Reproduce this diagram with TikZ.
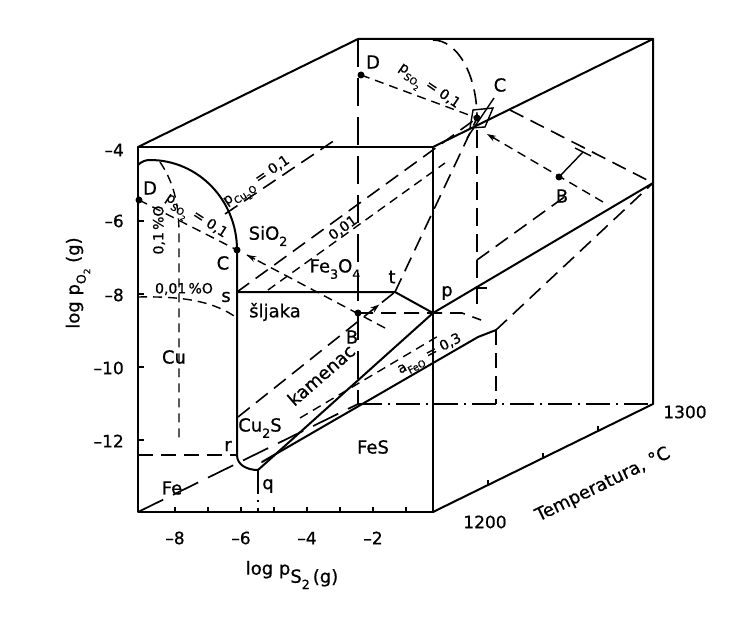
\documentclass[tikz,border=0pt]{standalone}
\usepackage{fontspec}
\setmainfont{DejaVu Sans}[FakeBold=0.7]
\usetikzlibrary{arrows.meta,calc}
\newcommand{\lw}[1]{\raisebox{-0.35em}{\scalebox{0.7}{#1}}}
\begin{document}
\begin{tikzpicture}[x=1pt,y=-1pt,
  edge/.style={line width=2pt, line join=round, line cap=round},
  bnd/.style={line width=2pt, line join=round, line cap=round},
  hid/.style={line width=1.7pt, dash pattern=on 28pt off 11pt},
  dsh/.style={line width=1.6pt, dash pattern=on 15pt off 8pt},
  sdsh/.style={line width=1.4pt, dash pattern=on 9pt off 6pt},
  ddot/.style={line width=1.6pt, dash pattern=on 24pt off 6pt on 2pt off 6pt},
  hvy/.style={line width=2.2pt, dash pattern=on 18pt off 8pt},
  lab/.style={font=\fontsize{18}{20}\selectfont, inner sep=0pt},
  num/.style={font=\fontsize{17}{19}\selectfont, inner sep=0pt},
  sml/.style={font=\fontsize{14}{16}\selectfont, inner sep=0pt},
  ptdot/.style={circle, fill, inner sep=0pt, minimum size=7pt},
  axtick/.style={line width=1.2pt},
  arrowtip/.style={line width=1.4pt, -{Stealth[length=9pt,width=6pt]}}
]
\useasboundingbox (0,0) rectangle (743,620);
\fill[white] (0,0) rectangle (743,620);

% ---- box corners
\coordinate (FTL) at (138,147);
\coordinate (FTR) at (433,147);
\coordinate (FBR) at (433,512);
\coordinate (FBL) at (138,512);
\coordinate (BTL) at (358,39);
\coordinate (BTR) at (653,39);
\coordinate (BBR) at (653,404);
\coordinate (BBL) at (358,404);

% ---- front face points
\coordinate (D) at (139,200);
\coordinate (C) at (237,250);
\coordinate (B) at (358,313);
\coordinate (s) at (237,292);
\coordinate (t) at (395,292);
\coordinate (p) at (433,313);
\coordinate (q) at (258,470);
\coordinate (r) at (237,455);
\coordinate (rl) at (138,455);
\coordinate (qb) at (258,512);
\coordinate (arcL) at (138,165);
\coordinate (arcTop) at (150,160);
\coordinate (a1) at (225,214);
\coordinate (a2) at (335,140);
\coordinate (c1) at (268,290);
\coordinate (c2) at (445,163);
\coordinate (Barrow) at (247,255);
\coordinate (Bext) at (385,328);
\coordinate (e1) at (238,417);
\coordinate (earr) at ($(e1)!0.9!(t)$);
\coordinate (af1) at (262,462);
\coordinate (af2) at (478,337);
\coordinate (af3) at (496,330);
\coordinate (af4) at (496,404);
\coordinate (ac1) at (300,418);
\coordinate (ac2) at (440,335);
\coordinate (pe1) at (462,313);
\coordinate (pe2) at (481,320);
\coordinate (o1) at (160,162);
\coordinate (o2) at (179,235);
\coordinate (o3) at (179,440);
\coordinate (oo1) at (138,297);
\coordinate (oo2) at (237,318);

% ---- back / right face points
\coordinate (pp) at (653,183);
\coordinate (Dp) at (361,75);
\coordinate (Cp) at (477,118);
\coordinate (Bp) at (559,177);
\coordinate (Bpe) at (603,202);
\coordinate (Cparrow) at (487,134);
\coordinate (ba1) at (433,40);
\coordinate (dl1) at (510,110);
\coordinate (br) at (583,152);
\coordinate (brA) at (575,148);
\coordinate (brB) at (591,156);
\coordinate (v1) at (477,130);
\coordinate (v2) at (477,305);
\coordinate (vt) at (487,288);
\coordinate (vt0) at (477,288);
\coordinate (w1) at (477,260);
\coordinate (w2) at (570,193);
\coordinate (sq1) at (473,110);
\coordinate (sq2) at (493,108);
\coordinate (sq3) at (485,127);
\coordinate (sq4) at (470,128);
\coordinate (ld1) at (467,138);
\coordinate (ld2) at (494,98);

% ---- box
\draw[edge] (FTL) -- (FTR) -- (FBR) -- (FBL) -- cycle;
\draw[edge] (FTL) -- (BTL) -- (BTR) -- (FTR);
\draw[edge] (BTR) -- (BBR) -- (FBR);
\draw[hid] (BTL) -- (BBL);
\draw[hid] (FBL) -- (BBL);
\draw[ddot] (BBL) -- (BBR);

% ---- ticks
\foreach \y in {221,294,367,440} \draw[axtick] (138,\y) -- ++(6,0);
\foreach \x in {175,208,241,274,307,340,373,406} \draw[axtick] (\x,512) -- ++(0,-5);
\foreach \k in {1,2,3} \draw[axtick] ($(FBR)!\k/4!(BBR)$) -- ++(0,-5);

% ---- front face boundaries
\draw[bnd] (arcL) .. controls (142,161) and (146,160) .. (arcTop)
  .. controls (198,160) and (237,200) .. (C) -- (r)
  .. controls (237,465) and (247,470) .. (q) -- (p) -- (pp);
\draw[bnd] (s) -- (t) -- (p);
\draw[bnd] (af1) -- (af2) -- (af3);

% ---- front face dashed lines
\draw[sdsh] (D) -- (C);
\draw[dsh] (a1) -- (a2);
\draw[dsh] (s) -- (Cp);
\draw[sdsh] (c1) -- (c2);
\draw[sdsh] (Bext) -- (Barrow);
\draw[arrowtip] ($(Barrow)!9pt!(B)$) -- (Barrow);
\draw[dsh] (e1) -- (t);
\draw[arrowtip] ($(earr)!9pt!(e1)$) -- (earr);
\draw[dsh] (t) -- (Cp);
\draw[dsh] (af3) -- (af4);
\draw[dsh] (af3) -- (pp);
\draw[sdsh] (ac1) -- (ac2);
\draw[dsh] (B) -- (p) -- (pe1) -- (pe2);
\draw[sdsh] (o1) .. controls (172,180) and (179,200) .. (o2) -- (o3);
\draw[sdsh] (oo1) .. controls (185,296) and (215,302) .. (oo2);
\draw[dsh] (rl) -- (r);
\draw[ddot] (q) -- (qb);

% ---- back face
\draw[dsh] (ba1) .. controls (457,40) and (477,74) .. (Cp);
\draw[sdsh] (Dp) -- (Cp);
\draw[sdsh] (Bpe) -- (Cparrow);
\draw[arrowtip] ($(Cparrow)!9pt!(Bp)$) -- (Cparrow);
\draw[dsh] (dl1) -- (pp);
\draw[line width=1.4pt] (Bp) -- (br);
\draw[line width=1.4pt] (brA) -- (brB);
\draw[hvy] (v1) -- (v2);
\draw[line width=1.4pt] (vt0) -- (vt);
\draw[dsh] (w1) -- (w2);
\draw[line width=1.4pt] (sq1) -- (sq2) -- (sq3) -- (sq4) -- cycle;
\draw[line width=1.4pt] (ld1) -- (ld2);

% ---- points
\node[ptdot] (nD) at (D) {};
\node[ptdot] (nC) at (C) {};
\node[ptdot] (nB) at (B) {};
\node[ptdot] (nDp) at (Dp) {};
\node[ptdot] (nCp) at (Cp) {};
\node[ptdot] (nBp) at (Bp) {};

% ---- point labels
\node[lab] (lD) at (150,188) {D};
\node[lab] (lC) at (223,263) {C};
\node[lab] (lB) at (352,337) {B};
\node[lab] (ls) at (226,297) {s};
\node[lab] (lt) at (392,277) {t};
\node[lab] (lp) at (447,293) {p};
\node[lab] (lr) at (228,446) {r};
\node[lab] (lq) at (268,486) {q};
\node[lab] (lDp) at (373,62) {D};
\node[lab] (lCp) at (500,85) {C};
\node[lab] (lBp) at (562,196) {B};

% ---- region labels
\node[lab] (lSiO) at (268,236) {SiO\lw{2}};
\node[lab] (lFe3) at (335,269) {Fe\lw{3}O\lw{4}};
\node[lab] (lsl) at (275,312) {šljaka};
\node[lab] (lCu) at (174,357) {Cu};
\node[lab] (lCuS) at (260,428) {Cu\lw{2}S};
\node[lab, rotate=41] (lkam) at (321,375) {kamenac};
\node[lab] (lFeS) at (373,447) {FeS};
\node[lab] (lFe) at (172,488) {Fe};

% ---- small labels
\node[sml, rotate=34] (lpcu) at (258,183) {p\lw{Cu\lw{2}O} = 0,1};
\node[sml, rotate=36] (l001) at (343,228) {0,01};
\node[sml, rotate=-33] (lpso) at (195,218) {p\lw{SO\lw{2}} = 0,1};
\node[sml, rotate=90] (l01) at (159,230) {0,1\,\%O};
\node[sml] (l001O) at (184,289) {0,01\,\%O};
\node[sml, rotate=-34] (lpsob) at (428,88) {p\lw{SO\lw{2}} = 0,1};
\node[sml, rotate=28] (lafeo) at (430,355) {a\lw{FeO} = 0,3};

% ---- axes labels
\node[num, anchor=east] (ym4) at (124,150) {–4};
\node[num, anchor=east] (ym6) at (124,221) {–6};
\node[num, anchor=east] (ym8) at (124,295) {–8};
\node[num, anchor=east] (ym10) at (124,368) {–10};
\node[num, anchor=east] (ym12) at (124,441) {–12};
\node[num] (xm8) at (175,538) {–8};
\node[num] (xm6) at (241,538) {–6};
\node[num] (xm4) at (307,538) {–4};
\node[num] (xm2) at (373,538) {–2};
\node[lab] (xlab) at (292,575) {log p\raisebox{-0.45em}{S\lw{2}\,(g)}};
\node[lab, rotate=90] (ylab) at (78,283) {log p\lw{O\lw{2}} (g)};
\node[num] (t1200) at (485,522) {1200};
\node[lab, rotate=26] (tlab) at (603,485) {Temperatura, °C};
\node[num] (t1300) at (685,412) {1300};
\end{tikzpicture}
\end{document}
